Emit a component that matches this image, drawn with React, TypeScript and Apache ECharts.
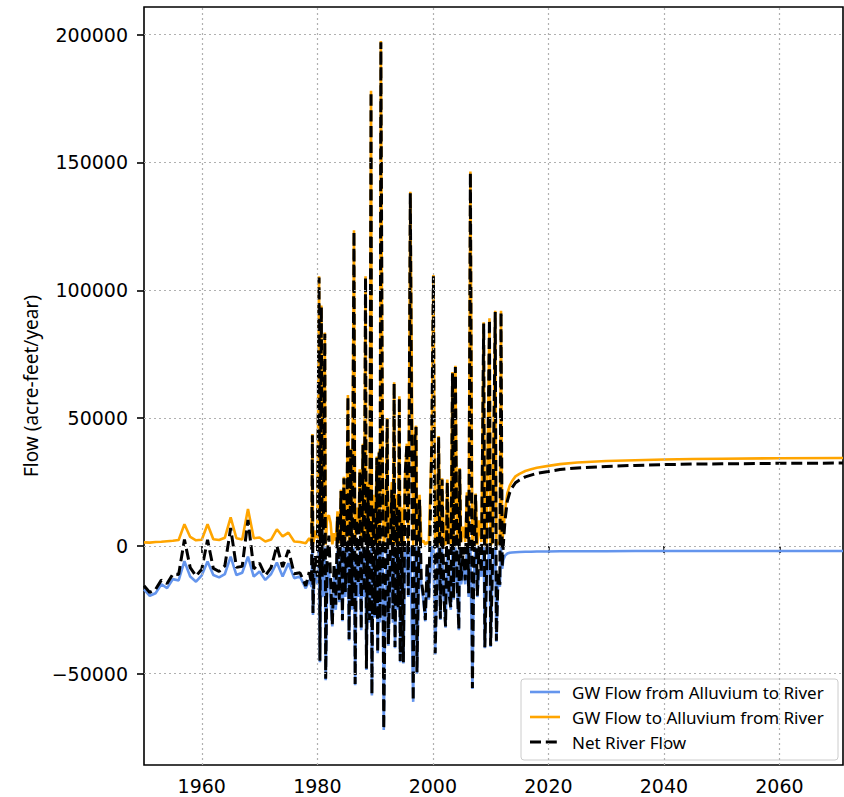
import React, { useEffect, useRef } from "react";
import * as echarts from "echarts";

// Sample times (decimal years)
const years = [
  1950, 1951, 1952, 1953, 1954, 1955, 1956, 1957, 1958, 1959,
  1960, 1961, 1962, 1963, 1964, 1965, 1966, 1967, 1968, 1969,
  1970, 1971, 1972, 1973, 1974, 1975, 1976, 1977, 1978, 1978.6,
  1979.0, 1979.15, 1979.25, 1979.45, 1979.7, 1980.0, 1980.3, 1980.45, 1980.7, 1980.85,
  1981.0, 1981.3, 1981.45, 1981.7, 1982.0, 1982.3, 1982.6, 1982.9, 1983.2, 1983.5,
  1983.8, 1984.1, 1984.35, 1984.6, 1984.85, 1985.1, 1985.3, 1985.5, 1985.8, 1986.0,
  1986.35, 1986.55, 1986.8, 1987.1, 1987.35, 1987.6, 1987.9, 1988.1, 1988.35, 1988.5,
  1988.8, 1989.05, 1989.3, 1989.45, 1989.7, 1989.95, 1990.3, 1990.45, 1990.7, 1990.85,
  1991.0, 1991.3, 1991.5, 1991.75, 1992.1, 1992.3, 1992.6, 1992.9, 1993.1, 1993.3,
  1993.45, 1993.75, 1994.0, 1994.2, 1994.35, 1994.6, 1994.9, 1995.2, 1995.5, 1995.75,
  1996.1, 1996.6, 1996.9, 1997.1, 1997.25, 1997.7, 1998.0, 1998.4, 1998.7, 1999.0,
  1999.3, 1999.8, 2000.1, 2000.4, 2000.7, 2001.0, 2001.3, 2001.6, 2001.9, 2002.2,
  2002.5, 2002.8, 2003.1, 2003.4, 2003.6, 2003.9, 2004.2, 2004.5, 2004.65, 2004.9,
  2005.3, 2005.6, 2005.9, 2006.2, 2006.5, 2006.85, 2007.1, 2007.4, 2007.7, 2008.0,
  2008.4, 2008.8, 2009.0, 2009.3, 2009.8, 2010.0, 2010.3, 2010.8, 2011.0, 2011.3,
  2011.6, 2011.8, 2012.0, 2012.2, 2012.5, 2012.9, 2013.3, 2013.7, 2014.3, 2015.0,
  2016.0, 2017.0, 2018.0, 2020.0, 2022.0, 2025.0, 2030.0, 2035.0, 2040.0, 2045.0,
  2050.0, 2060.0, 2071.0,
];

// GW Flow to Alluvium from River (acre-feet/year)
const toAlluvium = [
  1400, 1300, 1500, 1600, 1800, 2000, 2300, 8500, 3500, 2200,
  2400, 8500, 2600, 2300, 3200, 11200, 3000, 2500, 14400, 3000,
  3300, 1700, 2500, 6500, 3700, 5200, 1700, 1500, 1000, 3000,
  1500, 43800, 800, 2500, 6000, 3000, 105500, 600, 94000, 8000,
  12000, 83500, 500, 11000, 12000, 9000, 600, 5000, 2000, 13500,
  1000, 22000, 500, 27000, 2000, 12000, 59000, 500, 38000, 1500,
  123500, 500, 15000, 5000, 30000, 500, 40000, 2000, 105500, 500,
  25000, 1000, 178000, 500, 20000, 1000, 35000, 500, 37000, 1500,
  197500, 31000, 400, 5000, 50000, 500, 10000, 25000, 1000, 64000,
  500, 20000, 1000, 58500, 500, 15000, 500, 28500, 40000, 800,
  138500, 400, 43000, 47000, 500, 20000, 1500, 2000, 500, 1500,
  800, 40000, 106000, 500, 2000, 43000, 500, 26500, 1000, 500,
  26000, 1500, 1000, 68000, 500, 70500, 1500, 500, 30500, 1500,
  7500, 1500, 21000, 1500, 146500, 400, 5000, 20500, 500, 10000,
  1500, 87500, 400, 1500, 89000, 400, 1500, 92000, 400, 1500,
  800, 92000, 800, 6000, 14000, 20600, 23500, 25300, 27200, 28200,
  29300, 30000, 30600, 31300, 32000, 32600, 33200, 33500, 33800, 34000,
  34100, 34300, 34400,
];

// GW Flow from Alluvium to River (acre-feet/year)
const fromAlluvium = [
  -17000, -19500, -18500, -15000, -16500, -13000, -13500, -6000, -12000, -14000,
  -11500, -6100, -11400, -12300, -11000, -4200, -11400, -10500, -4200, -12000,
  -10000, -13300, -11000, -6500, -12000, -6800, -12600, -12000, -16600, -13300,
  -16000, -500, -27000, -12000, -10000, -15000, -500, -45500, -500, -20000,
  -18000, -500, -52500, -15000, -8000, -22000, -31500, -12000, -25000, -2000,
  -22000, -500, -29500, -500, -20000, -8000, -500, -37000, -500, -25000,
  -500, -54500, -5000, -20000, -1000, -33000, -500, -20000, -500, -48500,
  -2000, -30000, -500, -58500, -5000, -28000, -500, -42000, -500, -30000,
  -500, -500, -72000, -25000, -500, -39000, -15000, -3000, -30000, -500,
  -40000, -5000, -25000, -500, -45500, -6000, -46000, -1000, -500, -20000,
  -500, -61000, -500, -500, -50000, -2000, -15000, -22000, -29500, -8000,
  -21000, -500, -500, -42500, -15000, -500, -29000, -500, -20000, -32000,
  -1000, -20000, -25000, -500, -21000, -500, -15000, -33000, -500, -15000,
  -8000, -15000, -500, -20000, -500, -56000, -12000, -500, -20000, -10000,
  -12000, -500, -40000, -12000, -500, -39500, -12000, -500, -37500, -12000,
  -16000, -500, -9000, -5500, -3800, -3000, -2700, -2600, -2500, -2400,
  -2300, -2300, -2200, -2200, -2100, -2100, -2100, -2000, -2000, -2000,
  -2000, -2000, -2000,
];

// Axis ticks
const xTicks = [1960, 1980, 2000, 2020, 2040, 2060];
const yTicks = [-50000, 0, 50000, 100000, 150000, 200000];

// Legend entries
const legendNames = [
  "GW Flow from Alluvium to River",
  "GW Flow to Alluvium from River",
  "Net River Flow",
];

const BLUE = "#6495ED";
const ORANGE = "#FFA500";
const BLACK = "#000000";
const NET_DASH = [11, 4.8];

const tickFont = "DejaVu Sans";
const textFont = "Noto Sans";

export default function App() {
  const ref = useRef<HTMLDivElement>(null);

  useEffect(() => {
    if (!ref.current) return;
    const chart = echarts.init(ref.current, undefined, { renderer: "svg" });

    const blue = years.map((y, i) => [y, fromAlluvium[i]]);
    const orange = years.map((y, i) => [y, toAlluvium[i]]);
    const net = years.map((y, i) => [y, toAlluvium[i] + fromAlluvium[i]]);

    const fmtY = (v: number) => (v < 0 ? "\u2212" + Math.abs(v) : String(v));

    // legend box, drawn in the lower right corner of the plot
    const legendStyles = [
      { stroke: BLUE, lineWidth: 2.6 },
      { stroke: ORANGE, lineWidth: 2.6 },
      { stroke: BLACK, lineWidth: 3, lineDash: NET_DASH },
    ];
    const legendLeft = 521;
    const legendTop = 679;
    const rowGap = 25;
    const legendChildren: any[] = [
      {
        type: "rect",
        shape: { x: legendLeft, y: legendTop, width: 317, height: 81, r: 3 },
        style: { fill: "rgba(255,255,255,0.85)", stroke: "#cccccc", lineWidth: 1 },
      },
    ];
    legendNames.forEach((name, i) => {
      const cy = legendTop + 13 + i * rowGap;
      legendChildren.push({
        type: "line",
        shape: { x1: legendLeft + 9, y1: cy, x2: legendLeft + 39, y2: cy },
        style: { ...legendStyles[i] },
      });
      legendChildren.push({
        type: "text",
        x: legendLeft + 51,
        y: cy,
        style: {
          text: name,
          fill: "#000",
          font: `17px "${textFont}"`,
          verticalAlign: "middle",
          align: "left",
        },
      });
    });

    chart.setOption({
      animation: false,
      backgroundColor: "#ffffff",
      grid: {
        left: 144,
        top: 7,
        right: 1,
        bottom: 32,
        show: true,
        borderColor: "#000000",
        borderWidth: 1.6,
        backgroundColor: "transparent",
      },
      xAxis: {
        type: "value",
        min: 1950,
        max: 2071,
        axisLine: { show: false },
        splitLine: { show: false },
        axisTick: {
          show: true,
          customValues: xTicks,
          length: 7,
          lineStyle: { color: "#000", width: 1.6 },
        },
        axisLabel: {
          customValues: xTicks,
          margin: 11,
          color: "#000",
          fontFamily: tickFont,
          fontSize: 19,
          formatter: (v: number) => String(v),
        },
      },
      yAxis: {
        type: "value",
        min: -85700,
        max: 210800,
        name: "Flow (acre-feet/year)",
        nameLocation: "middle",
        nameGap: 103,
        nameTextStyle: { color: "#000", fontFamily: textFont, fontSize: 19 },
        axisLine: { show: false },
        splitLine: { show: false },
        axisTick: {
          show: true,
          customValues: yTicks,
          length: 7,
          lineStyle: { color: "#000", width: 1.6 },
        },
        axisLabel: {
          customValues: yTicks,
          margin: 16,
          color: "#000",
          fontFamily: tickFont,
          fontSize: 19,
          formatter: fmtY,
        },
      },
      graphic: [{ type: "group", z: 100, children: legendChildren }],
      series: [
        {
          // dotted grid at the tick positions
          type: "line",
          name: "grid",
          data: [],
          z: 1,
          silent: true,
          markLine: {
            silent: true,
            symbol: ["none", "none"],
            label: { show: false },
            lineStyle: { color: "#b0b0b0", width: 1.2, type: [2, 3] },
            data: [
              ...xTicks.map((v) => ({ xAxis: v })),
              ...yTicks.map((v) => ({ yAxis: v })),
            ],
          },
        },
        {
          type: "line",
          name: legendNames[0],
          data: blue,
          z: 2,
          showSymbol: false,
          symbol: "none",
          lineStyle: { color: BLUE, width: 2.6 },
        },
        {
          type: "line",
          name: legendNames[1],
          data: orange,
          z: 3,
          showSymbol: false,
          symbol: "none",
          lineStyle: { color: ORANGE, width: 2.6 },
        },
        {
          type: "line",
          name: legendNames[2],
          data: net,
          z: 4,
          showSymbol: false,
          symbol: "none",
          lineStyle: { color: BLACK, width: 3, type: NET_DASH },
        },
      ],
    });

    return () => chart.dispose();
  }, []);

  return (
    <div
      ref={ref}
      style={{ position: "fixed", left: 0, top: 0, width: 844, height: 797, background: "#fff" }}
    />
  );
}
